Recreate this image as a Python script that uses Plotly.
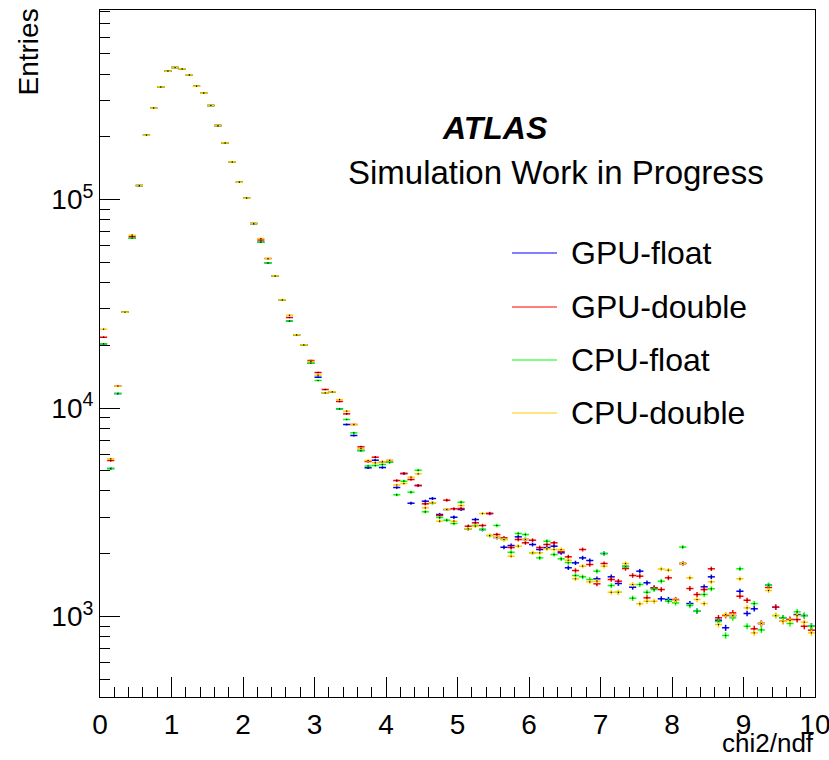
import numpy as np
import plotly.graph_objects as go

# 100 bins of width 0.1 on chi2/ndf in [0, 10]
n_bins = 100
bin_width = 0.1
bin_centers = [round((i + 0.5) * bin_width, 3) for i in range(n_bins)]

gpu_float = [20320, 5126, 11735, 28800, 65220, 116700, 203400, 274100, 347100, 412500,
             429700, 423500, 396400, 349400, 323500, 282400, 226400, 187000, 151600, 121100,
             101400, 76700, 62410, 49720, 43050, 33030, 26090, 22450, 20100, 16400,
             14050, 11830, 11960, 9913, 8335, 7383, 6255, 5167, 5618, 5184,
             5496, 4157, 4852, 3495, 4250, 3573, 3681, 3085, 3260, 2994,
             3260, 2634, 2919, 2614, 3119, 2393, 2149, 2190, 2411, 2341,
             2215, 2096, 2142, 2174, 2021, 1713, 1809, 1911, 1856, 1516,
             2005, 1550, 1440, 1738, 1382, 1650, 1451, 1373, 1216, 1207,
             1197, 1796, 1154, 1060, 1388, 1550, 960, 883, 1011, 1322,
             1034, 1089, 926, 1413, 1108, 986, 967, 1022, 1011, 898]

gpu_double = [21850, 5600, 12725, 28800, 66450, 116700, 203400, 274100, 347100, 412500,
              429700, 423500, 396400, 349400, 323500, 282400, 226400, 187000, 151600, 121100,
              101400, 76700, 63960, 52120, 43050, 33030, 27170, 22450, 20100, 16900,
              14800, 12270, 11960, 10750, 9380, 8335, 6514, 5539, 5808, 5521,
              5600, 4490, 4852, 4541, 4250, 3472, 3511, 3051, 3613, 3285,
              3296, 2711, 2815, 2733, 3119, 2474, 2385, 2142, 2341, 2257,
              2323, 2142, 2215, 2257, 2050, 1933, 1662, 2096, 1776, 1435,
              1796, 1505, 1477, 1699, 1573, 1561, 1229, 1373, 1347, 1533,
              1207, 1796, 1362, 1275, 1347, 1694, 986, 1011, 1041, 1251,
              1197, 873, 926, 1378, 1108, 949, 967, 967, 898, 860]

cpu_float = [20320, 5126, 11735, 28800, 65220, 116700, 203400, 274100, 347100, 412500,
             429700, 423500, 396400, 349400, 323500, 282400, 226400, 187000, 151600, 121100,
             101400, 76700, 62410, 49720, 43050, 33030, 26090, 22450, 20100, 16400,
             13550, 11830, 11960, 9900, 8810, 7604, 6255, 5270, 5300, 5358,
             5496, 3835, 4456, 3947, 5031, 3178, 3511, 2984, 2897, 2793,
             3534, 2634, 2733, 2614, 2446, 2733, 2341, 2034, 2501, 2474,
             2021, 1911, 2297, 1983, 1891, 1815, 1573, 1550, 1505, 1650,
             2005, 1408, 1307, 1743, 1224, 1424, 1307, 1347, 1477, 1184,
             1163, 2154, 1129, 1060, 1275, 1358, 946, 811, 986, 1694,
             898, 1154, 862, 1413, 1011, 986, 926, 1053, 1011, 898]

cpu_double = [23880, 5706, 12725, 28800, 67430, 116700, 203400, 274100, 347100, 412500,
              429700, 423500, 396400, 349400, 323500, 282400, 226400, 187000, 151600, 121100,
              101400, 76700, 65030, 52120, 43050, 33030, 27870, 22450, 20100, 16710,
              14370, 11830, 11960, 10980, 9654, 8335, 6394, 5600, 5460, 5521,
              5600, 4273, 4345, 4657, 4835, 3321, 3511, 2865, 3260, 2865,
              3407, 2634, 2711, 3119, 2446, 2393, 2341, 1946, 2174, 2341,
              2021, 2021, 2112, 2096, 2096, 1862, 1516, 1743, 1467, 1477,
              1743, 1307, 1307, 1796, 1424, 1151, 1184, 1184, 1690, 1668,
              1197, 1796, 1533, 1207, 1154, 1467, 915, 1022, 1011, 1516,
              1101, 835, 926, 1332, 1011, 949, 957, 1011, 939, 835]

series_names = ["GPU-float", "GPU-double", "CPU-float", "CPU-double"]
series_values = [gpu_float, gpu_double, cpu_float, cpu_double]
series_colors = ["#0000ff", "#ff0000", "#00ff00", "#ffcc00"]

x_ticks = list(range(0, 11))
y_major = [1e3, 1e4, 1e5]
y_major_text = ["10<sup>3</sup>", "10<sup>4</sup>", "10<sup>5</sup>"]

FONT = "Liberation Sans, Arial, Helvetica, sans-serif"

fig = go.Figure()
for name, vals, col in zip(series_names, series_values, series_colors):
    v = np.array(vals, dtype=float)
    fig.add_trace(go.Scatter(
        x=bin_centers, y=v, name=name, mode="markers",
        marker=dict(color="black", size=1.2, symbol="square", line=dict(width=0)),
        error_x=dict(type="constant", value=bin_width / 2, width=0, thickness=1.5, color=col),
        error_y=dict(type="data", array=np.sqrt(v), width=0, thickness=1.5, color=col),
        showlegend=False,
    ))

y_minor = [400, 500, 600, 700, 800, 900]
for e in [3, 4, 5]:
    for m in range(2, 10):
        y_minor.append(m * 10 ** e)

fig.update_layout(
    width=829, height=760,
    margin=dict(l=100, r=14, t=10, b=63, autoexpand=False),
    paper_bgcolor="white", plot_bgcolor="white",
    font=dict(family=FONT, color="black"),
    xaxis=dict(
        range=[0, 10], tickmode="array", tickvals=x_ticks,
        ticks="inside", ticklen=20, tickwidth=1, tickcolor="black",
        minor=dict(ticks="inside", ticklen=10, tickwidth=1, tickcolor="black", dtick=0.2, tick0=0),
        showline=True, linecolor="black", linewidth=1, mirror=True,
        showgrid=False, zeroline=False, automargin=False,
        tickfont=dict(size=28, family=FONT), ticklabelstandoff=2,
        ticklabeloverflow="allow",
    ),
    yaxis=dict(
        type="log", range=[2.614, 5.909], tickmode="array",
        tickvals=y_major, ticktext=y_major_text,
        ticks="inside", ticklen=20, tickwidth=1, tickcolor="black",
        minor=dict(ticks="inside", ticklen=10, tickwidth=1, tickcolor="black",
                   tickmode="array", tickvals=y_minor),
        showline=True, linecolor="black", linewidth=1, mirror=True,
        showgrid=False, zeroline=False, automargin=False,
        tickfont=dict(size=28, family=FONT),
    ),
)

def px_x(px):
    return (px - 100) / 715.0

def px_y(py):
    return (697.0 - py) / 687.0

# Axis titles
fig.add_annotation(text="Entries", xref="paper", yref="paper", x=px_x(28), y=px_y(7),
                   xanchor="center", yanchor="top", textangle=-90, showarrow=False,
                   font=dict(size=28, family=FONT))
fig.add_annotation(text="chi2/ndf", xref="paper", yref="paper", x=1.0, y=px_y(759),
                   xanchor="right", yanchor="bottom", showarrow=False, borderpad=0,
                   font=dict(size=26, family=FONT))

# ATLAS label
fig.add_annotation(text="<b><i>ATLAS</i></b>", xref="paper", yref="paper", x=px_x(495), y=px_y(128),
                   xanchor="center", yanchor="middle", showarrow=False,
                   font=dict(size=32, family=FONT))
fig.add_annotation(text="Simulation Work in Progress", xref="paper", yref="paper", x=px_x(556), y=px_y(172),
                   xanchor="center", yanchor="middle", showarrow=False,
                   font=dict(size=33, family=FONT))

# Legend
legend_y = [253, 307, 360, 413]
for name, col, ly in zip(series_names, series_colors, legend_y):
    fig.add_shape(type="line", xref="paper", yref="paper",
                  x0=px_x(512), x1=px_x(557), y0=px_y(ly), y1=px_y(ly),
                  line=dict(color=col, width=1.2))
    fig.add_annotation(text=name, xref="paper", yref="paper", x=px_x(569), y=px_y(ly),
                       xanchor="left", yanchor="middle", showarrow=False,
                       font=dict(size=32, family=FONT))

fig.write_html("out.html")
